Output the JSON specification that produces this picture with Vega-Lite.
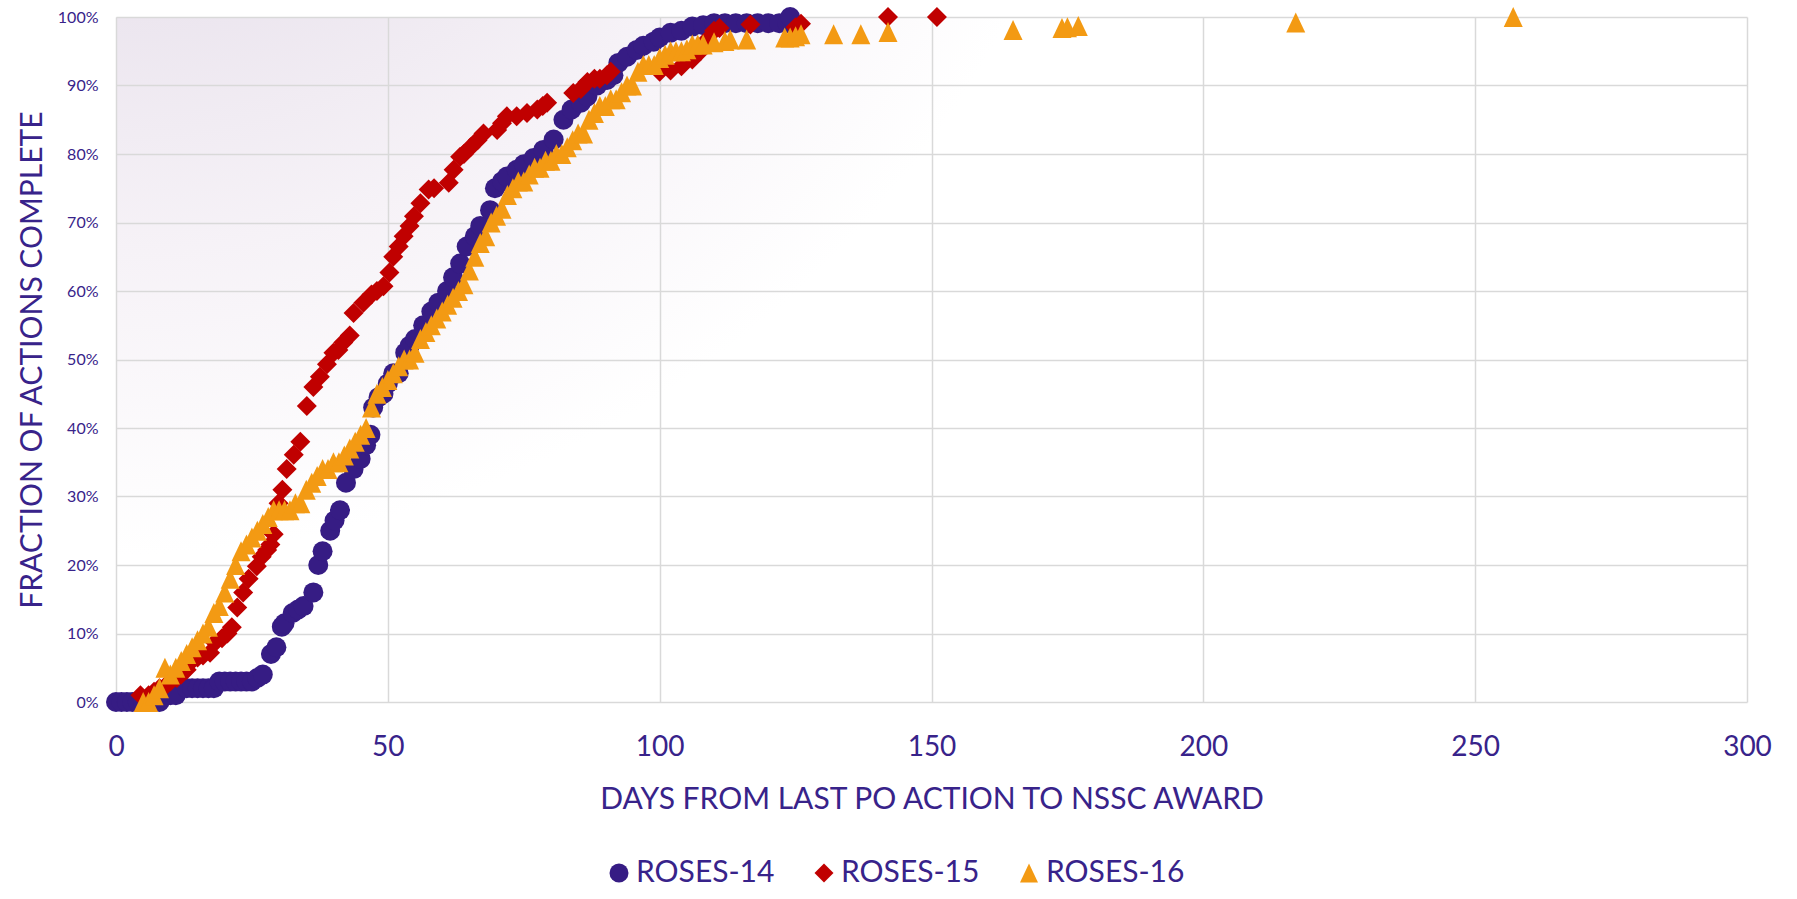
{
  "$schema": "https://vega.github.io/schema/vega-lite/v6.json",
  "autosize": "none",
  "width": 1631,
  "height": 685,
  "padding": {"left": 116, "top": 17, "right": 50, "bottom": 197},
  "background": "white",
  "config": {
    "view": {
      "stroke": null,
      "fill": {
        "gradient": "radial",
        "x1": 0, "y1": 0, "r1": 0,
        "x2": 0, "y2": 0, "r2": 0.62,
        "stops": [
          {"offset": 0, "color": "#D6CBE0"},
          {"offset": 0.35, "color": "#E7E0EB"},
          {"offset": 0.7, "color": "#F6F2F7"},
          {"offset": 1, "color": "#FFFFFF"}
        ]
      }
    },
    "font": "Lato",
    "axis": {
      "gridColor": "#D9D9D9",
      "gridWidth": 1.5,
      "domain": false,
      "ticks": false,
      "tickSize": 0,
      "labelColor": "#38238A",
      "titleColor": "#38238A",
      "labelFont": "Lato",
      "titleFont": "Lato",
      "titleFontWeight": "normal"
    }
  },
  "data": {
    "values": [
      {"series":"ROSES-14","days":0,"fraction":0},{"series":"ROSES-14","days":1,"fraction":0},{"series":"ROSES-14","days":2,"fraction":0},{"series":"ROSES-14","days":3,"fraction":0},{"series":"ROSES-14","days":4,"fraction":0},{"series":"ROSES-14","days":5,"fraction":0},{"series":"ROSES-14","days":6,"fraction":0},{"series":"ROSES-14","days":7,"fraction":0},{"series":"ROSES-14","days":8,"fraction":0},
      {"series":"ROSES-14","days":10,"fraction":0.01},{"series":"ROSES-14","days":11,"fraction":0.01},{"series":"ROSES-14","days":13,"fraction":0.02},{"series":"ROSES-14","days":14,"fraction":0.02},{"series":"ROSES-14","days":15,"fraction":0.02},{"series":"ROSES-14","days":16,"fraction":0.02},{"series":"ROSES-14","days":17,"fraction":0.02},{"series":"ROSES-14","days":18,"fraction":0.02},
      {"series":"ROSES-14","days":19,"fraction":0.03},{"series":"ROSES-14","days":20,"fraction":0.03},{"series":"ROSES-14","days":21,"fraction":0.03},{"series":"ROSES-14","days":22,"fraction":0.03},{"series":"ROSES-14","days":23,"fraction":0.03},{"series":"ROSES-14","days":24,"fraction":0.03},{"series":"ROSES-14","days":25,"fraction":0.03},{"series":"ROSES-14","days":26,"fraction":0.035},{"series":"ROSES-14","days":27,"fraction":0.04},
      {"series":"ROSES-14","days":28.5,"fraction":0.07},{"series":"ROSES-14","days":29.5,"fraction":0.08},{"series":"ROSES-14","days":30.5,"fraction":0.11},{"series":"ROSES-14","days":31,"fraction":0.115},{"series":"ROSES-14","days":32.5,"fraction":0.13},{"series":"ROSES-14","days":33.5,"fraction":0.135},{"series":"ROSES-14","days":34.5,"fraction":0.14},{"series":"ROSES-14","days":36.3,"fraction":0.16},
      {"series":"ROSES-14","days":37.2,"fraction":0.2},{"series":"ROSES-14","days":38,"fraction":0.22},{"series":"ROSES-14","days":39.4,"fraction":0.25},{"series":"ROSES-14","days":40.2,"fraction":0.265},{"series":"ROSES-14","days":41.2,"fraction":0.28},
      {"series":"ROSES-14","days":42.3,"fraction":0.32},{"series":"ROSES-14","days":43.7,"fraction":0.34},{"series":"ROSES-14","days":45,"fraction":0.355},{"series":"ROSES-14","days":46,"fraction":0.375},{"series":"ROSES-14","days":46.8,"fraction":0.39},{"series":"ROSES-14","days":47.3,"fraction":0.43},{"series":"ROSES-14","days":48.3,"fraction":0.445},{"series":"ROSES-14","days":49.2,"fraction":0.45},{"series":"ROSES-14","days":50,"fraction":0.465},{"series":"ROSES-14","days":51,"fraction":0.48},{"series":"ROSES-14","days":52,"fraction":0.48},
      {"series":"ROSES-14","days":53.2,"fraction":0.51},{"series":"ROSES-14","days":54,"fraction":0.52},{"series":"ROSES-14","days":55,"fraction":0.53},{"series":"ROSES-14","days":56.5,"fraction":0.55},{"series":"ROSES-14","days":58,"fraction":0.57},{"series":"ROSES-14","days":59.3,"fraction":0.583},{"series":"ROSES-14","days":60.9,"fraction":0.6},{"series":"ROSES-14","days":62,"fraction":0.62},{"series":"ROSES-14","days":63.3,"fraction":0.64},{"series":"ROSES-14","days":64.5,"fraction":0.665},{"series":"ROSES-14","days":66,"fraction":0.68},{"series":"ROSES-14","days":67,"fraction":0.695},{"series":"ROSES-14","days":68.8,"fraction":0.718},
      {"series":"ROSES-14","days":69.7,"fraction":0.75},{"series":"ROSES-14","days":71,"fraction":0.76},{"series":"ROSES-14","days":71.9,"fraction":0.767},{"series":"ROSES-14","days":73.7,"fraction":0.777},{"series":"ROSES-14","days":75,"fraction":0.785},{"series":"ROSES-14","days":76.8,"fraction":0.794},{"series":"ROSES-14","days":78.6,"fraction":0.806},{"series":"ROSES-14","days":80.5,"fraction":0.821},{"series":"ROSES-14","days":82.3,"fraction":0.85},{"series":"ROSES-14","days":83.8,"fraction":0.865},{"series":"ROSES-14","days":85.5,"fraction":0.875},{"series":"ROSES-14","days":86.7,"fraction":0.884},{"series":"ROSES-14","days":88.5,"fraction":0.9},{"series":"ROSES-14","days":90.3,"fraction":0.908},{"series":"ROSES-14","days":91.5,"fraction":0.915},{"series":"ROSES-14","days":92.4,"fraction":0.933},{"series":"ROSES-14","days":94,"fraction":0.942},{"series":"ROSES-14","days":95.8,"fraction":0.952},{"series":"ROSES-14","days":97,"fraction":0.958},{"series":"ROSES-14","days":98.9,"fraction":0.964},{"series":"ROSES-14","days":100,"fraction":0.97},{"series":"ROSES-14","days":102,"fraction":0.977},{"series":"ROSES-14","days":104,"fraction":0.98},{"series":"ROSES-14","days":106,"fraction":0.986},{"series":"ROSES-14","days":108,"fraction":0.988},{"series":"ROSES-14","days":110,"fraction":0.991},{"series":"ROSES-14","days":112,"fraction":0.991},{"series":"ROSES-14","days":114,"fraction":0.991},{"series":"ROSES-14","days":116,"fraction":0.991},{"series":"ROSES-14","days":118,"fraction":0.991},{"series":"ROSES-14","days":120,"fraction":0.991},{"series":"ROSES-14","days":122,"fraction":0.991},{"series":"ROSES-14","days":123.5,"fraction":0.991},{"series":"ROSES-14","days":124,"fraction":1.0},

      {"series":"ROSES-15","days":4.5,"fraction":0.01},{"series":"ROSES-15","days":6,"fraction":0.01},{"series":"ROSES-15","days":7,"fraction":0.015},{"series":"ROSES-15","days":8,"fraction":0.02},{"series":"ROSES-15","days":9.4,"fraction":0.026},{"series":"ROSES-15","days":10,"fraction":0.03},{"series":"ROSES-15","days":11.2,"fraction":0.035},{"series":"ROSES-15","days":12,"fraction":0.04},{"series":"ROSES-15","days":13,"fraction":0.047},{"series":"ROSES-15","days":14.2,"fraction":0.062},{"series":"ROSES-15","days":15,"fraction":0.065},{"series":"ROSES-15","days":16,"fraction":0.068},{"series":"ROSES-15","days":17.3,"fraction":0.072},{"series":"ROSES-15","days":18.2,"fraction":0.087},{"series":"ROSES-15","days":19.5,"fraction":0.093},{"series":"ROSES-15","days":20.5,"fraction":0.1},{"series":"ROSES-15","days":21.3,"fraction":0.109},{"series":"ROSES-15","days":22.3,"fraction":0.138},{"series":"ROSES-15","days":23.4,"fraction":0.16},{"series":"ROSES-15","days":24.4,"fraction":0.18},{"series":"ROSES-15","days":25.9,"fraction":0.198},{"series":"ROSES-15","days":26.8,"fraction":0.212},{"series":"ROSES-15","days":27.8,"fraction":0.222},{"series":"ROSES-15","days":28.4,"fraction":0.23},{"series":"ROSES-15","days":29,"fraction":0.245},
      {"series":"ROSES-15","days":29.9,"fraction":0.29},{"series":"ROSES-15","days":30.6,"fraction":0.31},{"series":"ROSES-15","days":31.4,"fraction":0.34},{"series":"ROSES-15","days":32.7,"fraction":0.361},{"series":"ROSES-15","days":33.9,"fraction":0.38},{"series":"ROSES-15","days":35.1,"fraction":0.432},{"series":"ROSES-15","days":36.3,"fraction":0.46},{"series":"ROSES-15","days":37.5,"fraction":0.475},{"series":"ROSES-15","days":38.8,"fraction":0.493},{"series":"ROSES-15","days":40,"fraction":0.51},{"series":"ROSES-15","days":40.9,"fraction":0.514},{"series":"ROSES-15","days":41.8,"fraction":0.525},{"series":"ROSES-15","days":43,"fraction":0.535},{"series":"ROSES-15","days":43.7,"fraction":0.568},{"series":"ROSES-15","days":45.5,"fraction":0.583},{"series":"ROSES-15","days":47,"fraction":0.595},{"series":"ROSES-15","days":48,"fraction":0.6},{"series":"ROSES-15","days":49.2,"fraction":0.607},{"series":"ROSES-15","days":50.3,"fraction":0.627},{"series":"ROSES-15","days":51,"fraction":0.65},{"series":"ROSES-15","days":52,"fraction":0.665},{"series":"ROSES-15","days":52.9,"fraction":0.68},{"series":"ROSES-15","days":54,"fraction":0.695},{"series":"ROSES-15","days":54.8,"fraction":0.709},{"series":"ROSES-15","days":56,"fraction":0.728},{"series":"ROSES-15","days":57.5,"fraction":0.748},{"series":"ROSES-15","days":58.5,"fraction":0.75},
      {"series":"ROSES-15","days":61.2,"fraction":0.758},{"series":"ROSES-15","days":62.1,"fraction":0.777},{"series":"ROSES-15","days":63.3,"fraction":0.796},{"series":"ROSES-15","days":64,"fraction":0.8},{"series":"ROSES-15","days":65.2,"fraction":0.81},{"series":"ROSES-15","days":66.5,"fraction":0.82},{"series":"ROSES-15","days":67.6,"fraction":0.83},{"series":"ROSES-15","days":70.1,"fraction":0.835},{"series":"ROSES-15","days":71,"fraction":0.845},{"series":"ROSES-15","days":71.9,"fraction":0.855},{"series":"ROSES-15","days":73.7,"fraction":0.855},{"series":"ROSES-15","days":75.6,"fraction":0.86},{"series":"ROSES-15","days":77.5,"fraction":0.865},{"series":"ROSES-15","days":78.5,"fraction":0.87},{"series":"ROSES-15","days":79.3,"fraction":0.875},
      {"series":"ROSES-15","days":84.1,"fraction":0.889},{"series":"ROSES-15","days":85.5,"fraction":0.895},{"series":"ROSES-15","days":86.7,"fraction":0.905},{"series":"ROSES-15","days":88,"fraction":0.91},{"series":"ROSES-15","days":89,"fraction":0.91},{"series":"ROSES-15","days":90.3,"fraction":0.915},{"series":"ROSES-15","days":91,"fraction":0.92},{"series":"ROSES-15","days":100,"fraction":0.92},{"series":"ROSES-15","days":102,"fraction":0.922},{"series":"ROSES-15","days":104,"fraction":0.928},{"series":"ROSES-15","days":106,"fraction":0.938},{"series":"ROSES-15","days":107.5,"fraction":0.95},{"series":"ROSES-15","days":108.5,"fraction":0.965},{"series":"ROSES-15","days":110,"fraction":0.98},{"series":"ROSES-15","days":111,"fraction":0.984},{"series":"ROSES-15","days":116.7,"fraction":0.989},{"series":"ROSES-15","days":125,"fraction":0.985},{"series":"ROSES-15","days":126,"fraction":0.99},{"series":"ROSES-15","days":142,"fraction":1.0},{"series":"ROSES-15","days":151,"fraction":1.0},

      {"series":"ROSES-16","days":5,"fraction":0},{"series":"ROSES-16","days":6,"fraction":0},{"series":"ROSES-16","days":7,"fraction":0.01},{"series":"ROSES-16","days":8,"fraction":0.02},{"series":"ROSES-16","days":9,"fraction":0.05},{"series":"ROSES-16","days":10,"fraction":0.04},{"series":"ROSES-16","days":11,"fraction":0.05},{"series":"ROSES-16","days":12,"fraction":0.06},{"series":"ROSES-16","days":13,"fraction":0.07},{"series":"ROSES-16","days":14,"fraction":0.08},{"series":"ROSES-16","days":15,"fraction":0.09},{"series":"ROSES-16","days":16,"fraction":0.1},{"series":"ROSES-16","days":17,"fraction":0.11},{"series":"ROSES-16","days":18,"fraction":0.13},{"series":"ROSES-16","days":19,"fraction":0.14},{"series":"ROSES-16","days":20,"fraction":0.16},{"series":"ROSES-16","days":21,"fraction":0.18},{"series":"ROSES-16","days":22,"fraction":0.2},{"series":"ROSES-16","days":23,"fraction":0.22},{"series":"ROSES-16","days":24,"fraction":0.23},{"series":"ROSES-16","days":25,"fraction":0.24},{"series":"ROSES-16","days":26,"fraction":0.25},{"series":"ROSES-16","days":27,"fraction":0.26},{"series":"ROSES-16","days":28,"fraction":0.27},{"series":"ROSES-16","days":29,"fraction":0.28},{"series":"ROSES-16","days":30,"fraction":0.28},{"series":"ROSES-16","days":31,"fraction":0.28},{"series":"ROSES-16","days":32,"fraction":0.28},{"series":"ROSES-16","days":33,"fraction":0.29},{"series":"ROSES-16","days":34,"fraction":0.29},{"series":"ROSES-16","days":35,"fraction":0.31},{"series":"ROSES-16","days":36,"fraction":0.32},{"series":"ROSES-16","days":37,"fraction":0.33},{"series":"ROSES-16","days":38,"fraction":0.34},{"series":"ROSES-16","days":39,"fraction":0.34},{"series":"ROSES-16","days":40,"fraction":0.35},{"series":"ROSES-16","days":41,"fraction":0.35},{"series":"ROSES-16","days":42,"fraction":0.36},{"series":"ROSES-16","days":43,"fraction":0.37},{"series":"ROSES-16","days":44,"fraction":0.38},{"series":"ROSES-16","days":45,"fraction":0.39},{"series":"ROSES-16","days":46,"fraction":0.4},{"series":"ROSES-16","days":47,"fraction":0.43},{"series":"ROSES-16","days":48,"fraction":0.45},{"series":"ROSES-16","days":49,"fraction":0.46},{"series":"ROSES-16","days":50,"fraction":0.47},
      {"series":"ROSES-16","days":51,"fraction":0.48},{"series":"ROSES-16","days":52,"fraction":0.49},{"series":"ROSES-16","days":53,"fraction":0.5},{"series":"ROSES-16","days":54,"fraction":0.5},{"series":"ROSES-16","days":55,"fraction":0.51},{"series":"ROSES-16","days":56,"fraction":0.53},{"series":"ROSES-16","days":57,"fraction":0.54},{"series":"ROSES-16","days":58,"fraction":0.55},{"series":"ROSES-16","days":59,"fraction":0.56},{"series":"ROSES-16","days":60,"fraction":0.57},{"series":"ROSES-16","days":61,"fraction":0.58},{"series":"ROSES-16","days":62,"fraction":0.59},{"series":"ROSES-16","days":63,"fraction":0.6},{"series":"ROSES-16","days":64,"fraction":0.61},{"series":"ROSES-16","days":65,"fraction":0.63},{"series":"ROSES-16","days":66,"fraction":0.65},{"series":"ROSES-16","days":67,"fraction":0.67},{"series":"ROSES-16","days":68,"fraction":0.68},{"series":"ROSES-16","days":69,"fraction":0.7},{"series":"ROSES-16","days":70,"fraction":0.71},{"series":"ROSES-16","days":71,"fraction":0.72},{"series":"ROSES-16","days":72,"fraction":0.74},{"series":"ROSES-16","days":73,"fraction":0.75},{"series":"ROSES-16","days":74,"fraction":0.76},{"series":"ROSES-16","days":75,"fraction":0.76},{"series":"ROSES-16","days":76,"fraction":0.77},{"series":"ROSES-16","days":77,"fraction":0.78},{"series":"ROSES-16","days":78,"fraction":0.78},{"series":"ROSES-16","days":79,"fraction":0.79},{"series":"ROSES-16","days":80,"fraction":0.79},{"series":"ROSES-16","days":81,"fraction":0.8},{"series":"ROSES-16","days":82,"fraction":0.8},{"series":"ROSES-16","days":83,"fraction":0.81},{"series":"ROSES-16","days":84,"fraction":0.82},{"series":"ROSES-16","days":85,"fraction":0.83},{"series":"ROSES-16","days":86,"fraction":0.83},{"series":"ROSES-16","days":87,"fraction":0.85},{"series":"ROSES-16","days":88,"fraction":0.86},{"series":"ROSES-16","days":89,"fraction":0.87},{"series":"ROSES-16","days":90,"fraction":0.87},{"series":"ROSES-16","days":91,"fraction":0.88},{"series":"ROSES-16","days":92,"fraction":0.88},{"series":"ROSES-16","days":93,"fraction":0.89},{"series":"ROSES-16","days":94,"fraction":0.9},{"series":"ROSES-16","days":95,"fraction":0.9},{"series":"ROSES-16","days":96,"fraction":0.92},{"series":"ROSES-16","days":97,"fraction":0.93},{"series":"ROSES-16","days":98,"fraction":0.93},{"series":"ROSES-16","days":99,"fraction":0.93},{"series":"ROSES-16","days":100,"fraction":0.94},
      {"series":"ROSES-16","days":101,"fraction":0.945},{"series":"ROSES-16","days":102,"fraction":0.95},{"series":"ROSES-16","days":103,"fraction":0.95},{"series":"ROSES-16","days":104,"fraction":0.95},{"series":"ROSES-16","days":105,"fraction":0.953},{"series":"ROSES-16","days":106,"fraction":0.96},{"series":"ROSES-16","days":107,"fraction":0.96},{"series":"ROSES-16","days":108,"fraction":0.96},{"series":"ROSES-16","days":110,"fraction":0.963},{"series":"ROSES-16","days":112,"fraction":0.965},{"series":"ROSES-16","days":113,"fraction":0.967},{"series":"ROSES-16","days":116,"fraction":0.967},{"series":"ROSES-16","days":123,"fraction":0.97},{"series":"ROSES-16","days":124,"fraction":0.97},{"series":"ROSES-16","days":125,"fraction":0.972},{"series":"ROSES-16","days":126,"fraction":0.975},{"series":"ROSES-16","days":132,"fraction":0.975},{"series":"ROSES-16","days":137,"fraction":0.975},{"series":"ROSES-16","days":142,"fraction":0.978},{"series":"ROSES-16","days":165,"fraction":0.981},{"series":"ROSES-16","days":174,"fraction":0.984},{"series":"ROSES-16","days":175,"fraction":0.985},{"series":"ROSES-16","days":177,"fraction":0.987},{"series":"ROSES-16","days":217,"fraction":0.992},{"series":"ROSES-16","days":257,"fraction":1.0}
    ]
  },
  "mark": {"type": "point", "filled": true, "opacity": 1, "strokeWidth": 0, "size": 400},
  "encoding": {
    "x": {
      "field": "days", "type": "quantitative",
      "scale": {"domain": [0, 300], "nice": false},
      "axis": {
        "values": [0, 50, 100, 150, 200, 250, 300],
        "title": "DAYS FROM LAST PO ACTION TO NSSC AWARD",
        "labelFontSize": 28,
        "labelPadding": 31,
        "titleFontSize": 30,
        "titlePadding": 23,
        "labelFlush": false
      }
    },
    "y": {
      "field": "fraction", "type": "quantitative",
      "scale": {"domain": [0, 1], "nice": false},
      "axis": {
        "values": [0, 0.1, 0.2, 0.3, 0.4, 0.5, 0.6, 0.7, 0.8, 0.9, 1],
        "format": ".0%",
        "title": "FRACTION OF ACTIONS COMPLETE",
        "labelFontSize": 16,
        "labelPadding": 18,
        "titleFontSize": 30,
        "titlePadding": 10,
        "labelFlush": false
      }
    },
    "color": {
      "field": "series", "type": "nominal",
      "scale": {"domain": ["ROSES-14", "ROSES-15", "ROSES-16"], "range": ["#361C84", "#C00000", "#F39A13"]},
      "legend": {
        "title": null,
        "orient": "none",
        "direction": "horizontal",
        "legendX": 488,
        "legendY": 841,
        "labelFontSize": 30,
        "labelFont": "Lato",
        "labelColor": "#38238A",
        "symbolSize": 360,
        "symbolOpacity": 1,
        "symbolStrokeWidth": 0,
        "labelOffset": 2,
        "columnPadding": 34,
        "padding": 0
      }
    },
    "shape": {
      "field": "series", "type": "nominal",
      "scale": {"domain": ["ROSES-14", "ROSES-15", "ROSES-16"], "range": ["circle", "diamond", "M0,-1L-0.95,1L0.95,1Z"]}
    }
  }
}
